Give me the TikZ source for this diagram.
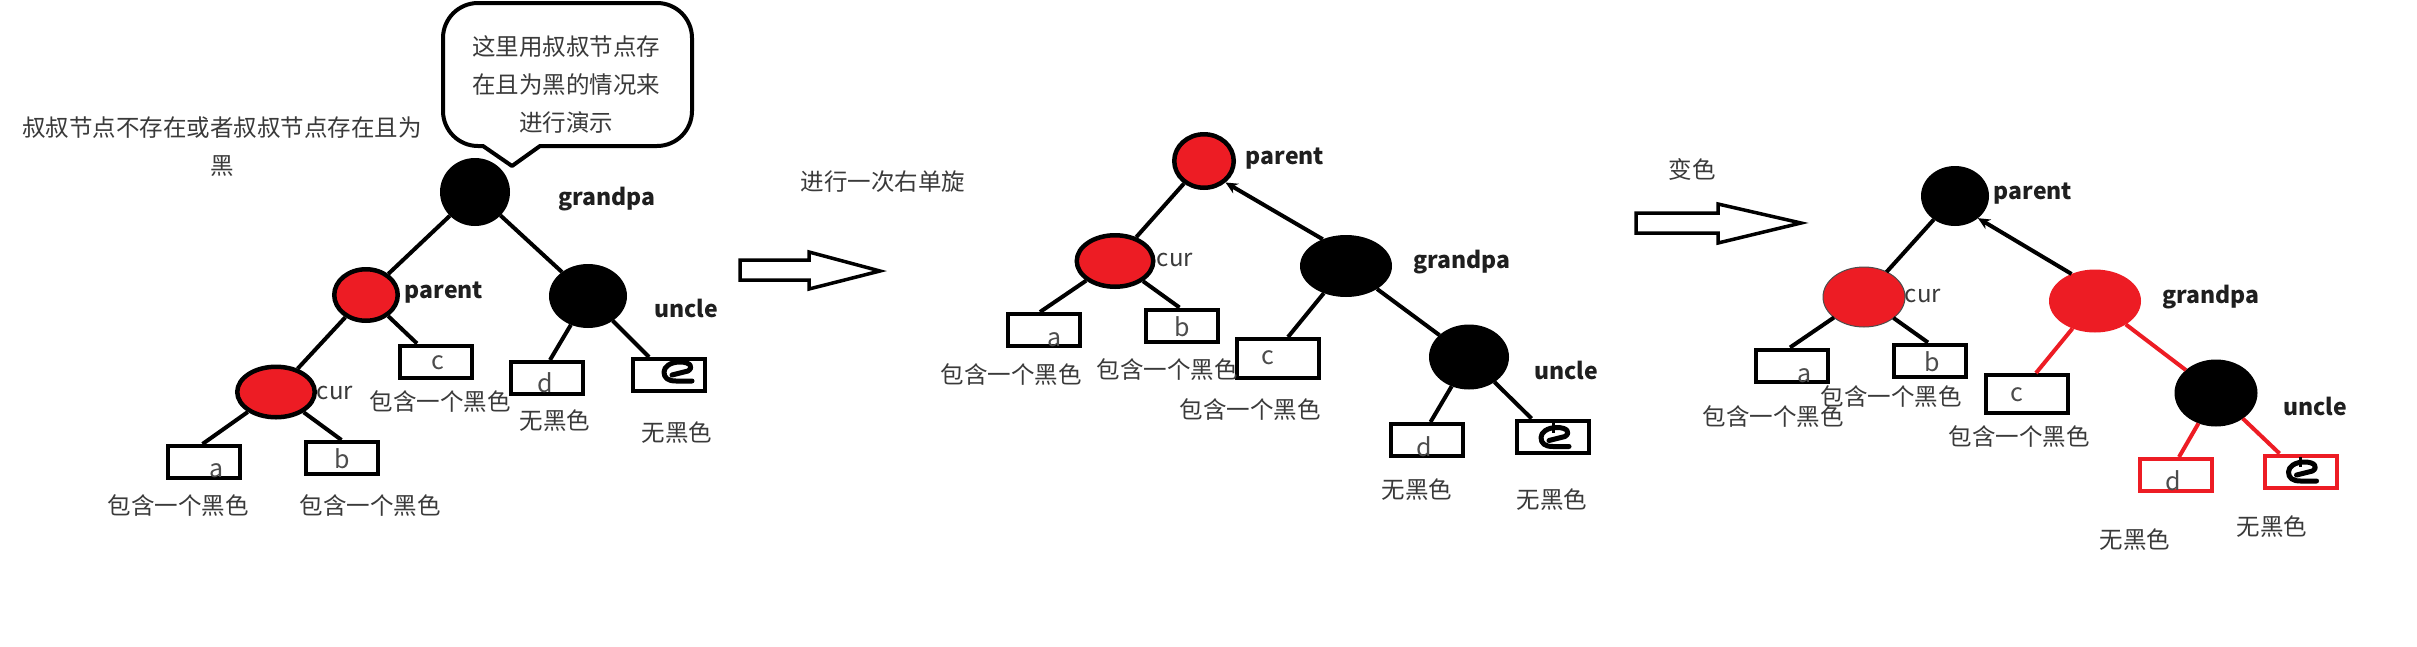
\documentclass[tikz,border=0pt]{standalone}
\usepackage{fontspec}
\setmainfont{Noto Sans CJK SC}
\usetikzlibrary{shapes.geometric,arrows.meta}
\definecolor{myred}{HTML}{ED1C24}
\definecolor{txtgray}{HTML}{3A3A3A}
\tikzset{
  edge/.style={line width=4pt, draw=black},
  redge/.style={line width=4pt, draw=myred},
  blknode/.style={ellipse, fill=black, inner sep=0pt, outer sep=0pt},
  rednode/.style={ellipse, fill=myred, draw=black, line width=4.5pt, inner sep=0pt},
  redflat/.style={ellipse, fill=myred, inner sep=0pt, outer sep=0pt},
  leafbox/.style={rectangle, draw=black, line width=4pt, inner sep=0pt, minimum width=72pt, minimum height=32pt},
  rleafbox/.style={leafbox, draw=myred},
  cjklab/.style={font=\fontsize{23.5}{38}\selectfont, text=txtgray, inner sep=0pt},
  boldlab/.style={font=\fontsize{23}{28}\selectfont\bfseries, text=black!88, inner sep=0pt},
  curlab/.style={font=\fontsize{24}{28}\selectfont, text=txtgray, inner sep=0pt},
  letlab/.style={font=\fontsize{25}{28}\selectfont, text=black!70, inner sep=0pt},
  blockarrow/.style={line width=3.5pt, draw=black, line join=miter},
  escrib/.pic={\draw[line width=5pt, line cap=round, line join=round] (3,0) -- (19,-4) .. controls (25,-8) and (21,-13) .. (11,-13) .. controls (1,-13) and (-5,-8) .. (-5,-3) .. controls (-5,3) and (-1,6) .. (7,6) -- (23,6);},
  escribt/.pic={\draw[line width=5pt, line cap=round, line join=round] (3,0) -- (19,-4) .. controls (25,-8) and (21,-13) .. (11,-13) .. controls (1,-13) and (-5,-8) .. (-5,-3) .. controls (-5,3) and (-1,6) .. (7,6) -- (23,6);
    \draw[line width=3pt] (7,-18) -- (7,-8);}
}
\begin{document}
\begin{tikzpicture}[x=1pt,y=-1pt]
\useasboundingbox[fill=white] (0,0) rectangle (2417,646);

% ================= Panel 1 =================
\node[cjklab, align=center, text width=410pt] (title1) at (222,146.5) {叔叔节点不存在或者叔叔节点存在且为\\黑};
% speech bubble
\draw[line width=4pt, line join=round] (512,166) -- (540,146) -- (657,146)
  arc[start angle=-90, end angle=0, radius=35pt] -- (692,38)
  arc[start angle=0, end angle=90, radius=35pt] -- (478,3)
  arc[start angle=90, end angle=180, radius=35pt] -- (443,111)
  arc[start angle=180, end angle=270, radius=35pt] -- (483,146) -- cycle;
\node[cjklab, align=center] (bubtext) at (566,85) {这里用叔叔节点存\\在且为黑的情况来\\进行演示};

\node[blknode, minimum width=70pt, minimum height=68pt] (gp1) at (475,192) {};
\node[rednode, minimum width=63.5pt, minimum height=51.5pt] (p1) at (366,295) {};
\node[blknode, minimum width=78pt, minimum height=64pt] (u1) at (588,296) {};
\node[rednode, minimum width=77.5pt, minimum height=50.5pt] (cur1) at (276,392) {};
\node[leafbox] (c1) at (436,361.5) {};
\node[leafbox] (d1) at (547,378) {};
\node[leafbox] (e1) at (669,375) {};
\node[leafbox] (a1) at (203.5,462) {};
\node[leafbox] (b1) at (341.5,458) {};

\node[boldlab] (gp1l) at (607,199) {grandpa};
\node[boldlab] (p1l) at (444,293) {parent};
\node[boldlab] (u1l) at (686,308) {uncle};
\node[curlab] (cur1l) at (335,393) {cur};
\node[letlab] (c1t) at (438,363) {c};
\node[letlab] (d1t) at (545,383) {d};
\node[letlab] (a1t) at (217,471) {a};
\node[letlab] (b1t) at (342,459) {b};
\pic at (e1.center) {escrib};
\node[cjklab] (c1l) at (440,402) {包含一个黑色};
\node[cjklab] (d1l) at (555,421) {无黑色};
\node[cjklab] (e1l) at (677,433) {无黑色};
\node[cjklab] (a1l) at (178,506) {包含一个黑色};
\node[cjklab] (b1l) at (370,506) {包含一个黑色};

\draw[edge] (gp1) -- (p1);
\draw[edge] (gp1) -- (u1);
\draw[edge] (p1) -- (cur1);
\draw[edge] (p1) -- ([xshift=-19pt]c1.north);
\draw[edge] (cur1) -- ([xshift=-1pt]a1.north);
\draw[edge] (cur1) -- (b1.north);
\draw[edge] (u1) -- ([xshift=3pt]d1.north);
\draw[edge] (u1) -- ([xshift=-20pt]e1.north);

% ================= Arrow 1 =================
\draw[blockarrow] (740,260) -- (809,260) -- (809,252) -- (880,271) -- (809,289) -- (809,280) -- (740,280) -- cycle;
\node[cjklab] (rot) at (883,182) {进行一次右单旋};

% ================= Panel 2 =================
\node[rednode, minimum width=59.5pt, minimum height=53.5pt] (p2) at (1204,161) {};
\node[rednode, minimum width=76.5pt, minimum height=51.5pt] (cur2) at (1115,261) {};
\node[blknode, minimum width=92pt, minimum height=62pt] (gp2) at (1346,266) {};
\node[blknode, minimum width=80pt, minimum height=65pt] (u2) at (1469,357) {};
\node[leafbox] (a2) at (1044,330) {};
\node[leafbox] (b2) at (1181.5,325.5) {};
\node[leafbox, minimum width=82pt, minimum height=39pt] (c2) at (1278,358.5) {};
\node[leafbox] (d2) at (1426.5,440) {};
\node[leafbox] (e2) at (1552.5,436.5) {};

\node[boldlab] (p2l) at (1285,159) {parent};
\node[curlab] (cur2l) at (1175,260) {cur};
\node[boldlab] (gp2l) at (1462,262) {grandpa};
\node[boldlab] (u2l) at (1566,370) {uncle};
\node[letlab] (a2t) at (1055,340) {a};
\node[letlab] (b2t) at (1182,327) {b};
\node[letlab] (c2t) at (1268,358) {c};
\node[letlab] (d2t) at (1424,447) {d};
\pic at ([xshift=-6.5pt,yshift=-4pt]e2.center) {escribt};
\node[cjklab] (a2l) at (1011,375) {包含一个黑色};
\node[cjklab] (b2l) at (1167,370) {包含一个黑色};
\node[cjklab] (c2l) at (1250,410) {包含一个黑色};
\node[cjklab] (d2l) at (1417,490) {无黑色};
\node[cjklab] (e2l) at (1552,500) {无黑色};

\draw[edge] (p2) -- (cur2);
\draw[edge, -{Stealth[length=12pt,width=11pt]}] (gp2.131) -- (p2.-45);
\draw[edge] (cur2) -- ([xshift=-4pt]a2.north);
\draw[edge] (cur2) -- ([xshift=-2pt]b2.north);
\draw[edge] (gp2) -- ([xshift=10pt]c2.north);
\draw[edge] (gp2) -- (u2);
\draw[edge] (u2) -- ([xshift=4pt]d2.north);
\draw[edge] (u2) -- ([xshift=-21pt]e2.north);

% ================= Arrow 2 =================
\draw[blockarrow] (1636,213) -- (1718,213) -- (1718,204) -- (1801,223) -- (1718,243) -- (1718,233) -- (1636,233) -- cycle;
\node[cjklab] (recol) at (1692,169) {变色};

% ================= Panel 3 =================
\node[blknode, minimum width=68pt, minimum height=60pt] (p3) at (1955,196) {};
\node[redflat, draw=black!70, line width=1pt, minimum width=82pt, minimum height=60pt] (cur3) at (1864,297) {};
\node[redflat, minimum width=92pt, minimum height=63pt] (gp3) at (2095,301) {};
\node[blknode, minimum width=83pt, minimum height=67pt] (u3) at (2216,393) {};
\node[leafbox] (a3) at (1792,365.5) {};
\node[leafbox] (b3) at (1930,360.5) {};
\node[leafbox, minimum width=82pt, minimum height=38pt] (c3) at (2027,394) {};
\node[rleafbox] (d3) at (2176,475) {};
\node[rleafbox] (e3) at (2300.5,471.5) {};

\node[boldlab] (p3l) at (2033,194) {parent};
\node[curlab] (cur3l) at (1923,296) {cur};
\node[boldlab] (gp3l) at (2211,297) {grandpa};
\node[boldlab] (u3l) at (2315,406) {uncle};
\node[letlab] (a3t) at (1805,376) {a};
\node[letlab] (b3t) at (1932,362) {b};
\node[letlab] (c3t) at (2017,395) {c};
\node[letlab] (d3t) at (2173,481) {d};
\pic at ([xshift=-7pt,yshift=-3.5pt]e3.center) {escribt};
\node[cjklab] (a3l) at (1773,417) {包含一个黑色};
\node[cjklab] (b3l) at (1891,397) {包含一个黑色};
\node[cjklab] (c3l) at (2019,437) {包含一个黑色};
\node[cjklab] (d3l) at (2135,540) {无黑色};
\node[cjklab] (e3l) at (2272,527) {无黑色};

\draw[edge] (p3) -- (cur3);
\draw[edge, -{Stealth[length=12pt,width=11pt]}] (gp3.131) -- (p3.-44);
\draw[edge] (cur3) -- ([xshift=-2pt]a3.north);
\draw[edge] (cur3) -- ([xshift=-2pt]b3.north);
\draw[redge] (gp3) -- ([xshift=9pt]c3.north);
\draw[redge] (gp3) -- (u3);
\draw[redge] (u3) -- ([xshift=3pt]d3.north);
\draw[redge] (u3) -- ([xshift=-21pt]e3.north);
\end{tikzpicture}
\end{document}
